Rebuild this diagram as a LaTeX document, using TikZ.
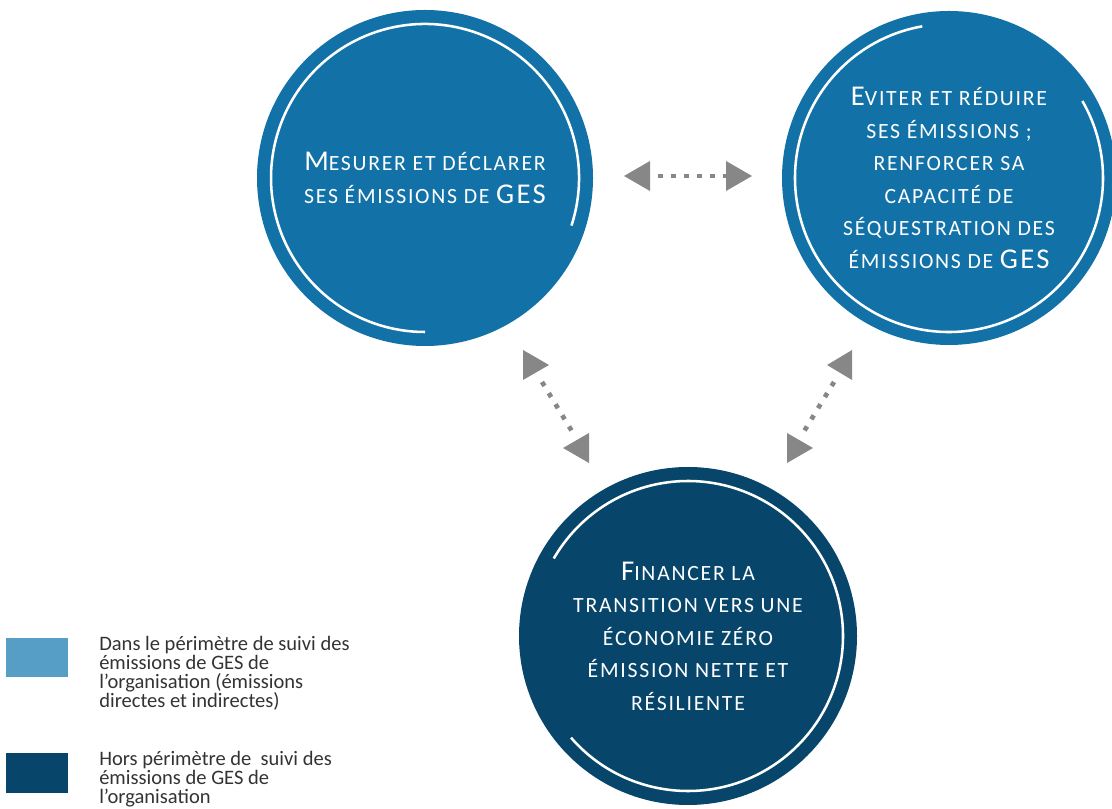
\documentclass[tikz,border=0pt]{standalone}
\usepackage{fontspec}
\setmainfont{Carlito}
\newfontfamily\circfont[LetterSpace=8]{Carlito}
\definecolor{cblue}{HTML}{1272A7}
\definecolor{cdark}{HTML}{07466A}
\definecolor{clight}{HTML}{569EC6}
\definecolor{cgray}{HTML}{878787}
\definecolor{ctext}{HTML}{333333}
\newcommand\bc[1]{{\fontsize{21.5}{24.4}\selectfont #1}}
\begin{document}
\begin{tikzpicture}[x=0.75pt,y=0.75pt,
  bigcircle/.style={circle, minimum size=#1, inner sep=0pt, text=white, align=center,
    font=\circfont\fontsize{16.3}{24.4}\selectfont},
  innerarc/.style={draw=white, line width=1.9pt},
  tri/.style={fill=cgray},
  dots/.style={draw=cgray, line width=3.5pt, dash pattern=on 3.5pt off 6.25pt},
  legtext/.style={anchor=north west, inner sep=0pt, align=left, text=ctext,
    font=\fontsize{15.4}{14.2}\selectfont}]
\useasboundingbox (0,0) rectangle (1112,809);

% circles
\node[bigcircle=252pt, fill=cblue] (c1) at (425,631)
  {\bc{M}ESURER ET DÉCLARER\\SES ÉMISSIONS DE \bc{GES}};
\node[bigcircle=250.5pt, fill=cblue] (c2) at (949,631)
  {\bc{E}VITER ET RÉDUIRE\\SES ÉMISSIONS ;\\RENFORCER SA\\CAPACITÉ DE\\SÉQUESTRATION DES\\ÉMISSIONS DE \bc{GES}};
\node[bigcircle=253.5pt, fill=cdark] (c3) at (688,173)
  {\bc{F}INANCER LA\\TRANSITION VERS UNE\\ÉCONOMIE ZÉRO\\ÉMISSION NETTE ET\\RÉSILIENTE};

% inner arcs
\draw[innerarc] (c1.center) ++(-18:154) arc[start angle=-18, end angle=270, radius=154];
\draw[innerarc] (c2.center) ++(100:154) arc[start angle=100, end angle=390, radius=154];
\draw[innerarc] (c3.center) ++(221:155) arc[start angle=221, end angle=510, radius=155];

% horizontal connector
\coordinate (h1) at (650,633);
\coordinate (h2) at (726,633);
\fill[tri] (650,648) -- (624,633) -- (650,618) -- cycle;
\fill[tri] (726,648) -- (752,633) -- (726,618) -- cycle;
\draw[dots] (h1) ++(8,0) -- (h2);

% left diagonal connector
\coordinate (l1) at (542,427);
\coordinate (l2) at (573,376);
\fill[tri] (523,459) -- (549,444) -- (523,429) -- cycle;
\fill[tri] (589,376) -- (563,361) -- (589,346) -- cycle;
\draw[dots] (l1) -- (l2);

% right diagonal connector
\coordinate (r1) at (834,427);
\coordinate (r2) at (803,376);
\fill[tri] (852,459) -- (827,444) -- (852,429) -- cycle;
\fill[tri] (787,376) -- (813,361) -- (787,346) -- cycle;
\draw[dots] (r1) -- (r2);

% legend
\fill[clight] (6,132) rectangle (68,171);
\fill[cdark] (6,16) rectangle (68,56);
\node[legtext] (t1) at (99,173) {Dans le périmètre de suivi des\\émissions de GES de\\l’organisation (émissions\\directes et indirectes)};
\node[legtext] (t2) at (99,58) {Hors périmètre de~ suivi des\\émissions de GES de\\l’organisation};
\end{tikzpicture}
\end{document}
